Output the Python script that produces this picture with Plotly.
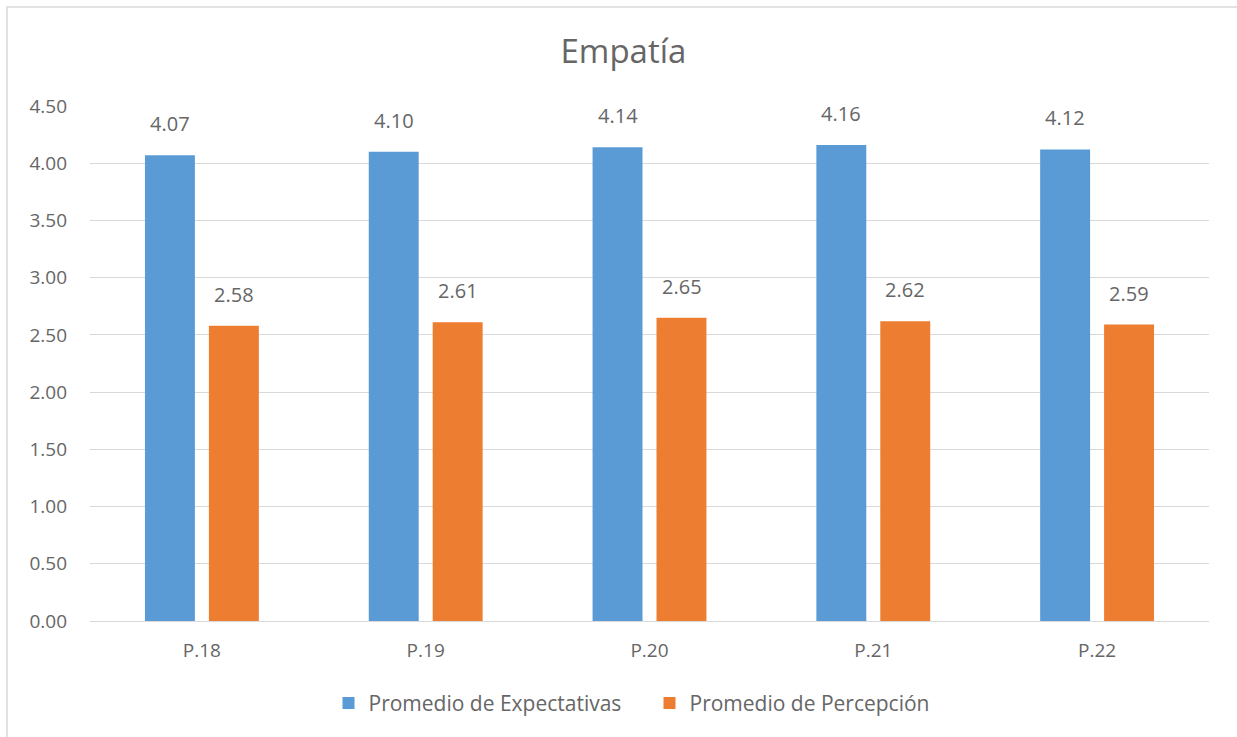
import plotly.graph_objects as go

categories = ["P.18", "P.19", "P.20", "P.21", "P.22"]
expectativas = [4.07, 4.10, 4.14, 4.16, 4.12]
percepcion = [2.58, 2.61, 2.65, 2.62, 2.59]
series_names = ["Promedio de Expectativas", "Promedio de Percepción"]
y_ticks = [0, 0.5, 1.0, 1.5, 2.0, 2.5, 3.0, 3.5, 4.0, 4.5]

BLUE = "#5B9BD5"
ORANGE = "#ED7D31"
TEXT = "#666666"
GRID = "#D9D9D9"
FONT = "'Open Sans', Lato, sans-serif"

fig = go.Figure()
fig.add_trace(go.Bar(x=categories, y=expectativas, name=series_names[0],
                     marker=dict(color=BLUE, line=dict(width=0))))
fig.add_trace(go.Bar(x=categories, y=percepcion, name=series_names[1],
                     marker=dict(color=ORANGE, line=dict(width=0))))

annotations = []
for vals, xs in ((expectativas, -32), (percepcion, 32)):
    for c, v in zip(categories, vals):
        annotations.append(dict(x=c, y=v, text=f"{v:.2f}", showarrow=False,
                                xshift=xs, yshift=16, yanchor="bottom",
                                font=dict(family=FONT, size=20, color=TEXT)))

fig.update_layout(
    width=1237, height=737,
    margin=dict(l=90, r=28, t=106, b=116),
    paper_bgcolor="white", plot_bgcolor="white",
    barmode="group", bargap=0.4286, bargroupgap=0.219,
    title=dict(text="Empatía", x=0.504, xanchor="center", y=0.93, yanchor="middle",
               font=dict(family=FONT, size=33, color=TEXT)),
    font=dict(family=FONT, color=TEXT),
    xaxis=dict(showgrid=False, showline=True, linecolor=GRID, linewidth=1,
               ticks="", ticklabelstandoff=12,
               tickfont=dict(family=FONT, size=19, color=TEXT)),
    yaxis=dict(range=[0, 4.5], tickvals=y_ticks, tickformat=".2f",
               showgrid=True, gridcolor=GRID, gridwidth=1, zeroline=False,
               showline=False, ticks="", ticklabelstandoff=22,
               tickfont=dict(family=FONT, size=19, color=TEXT)),
    legend=dict(orientation="h", x=0.5, xanchor="center", y=-0.16, yanchor="middle",
                font=dict(family=FONT, size=21, color=TEXT), traceorder="normal",
                itemwidth=30, entrywidth=276, entrywidthmode="pixels"),
    annotations=annotations,
    shapes=[dict(type="rect", xref="paper", yref="paper",
                 x0=-0.0742, x1=1.05, y0=-0.4, y1=1.1922,
                 line=dict(color=GRID, width=1.5), layer="below")],
)

fig.write_html("out.html")
